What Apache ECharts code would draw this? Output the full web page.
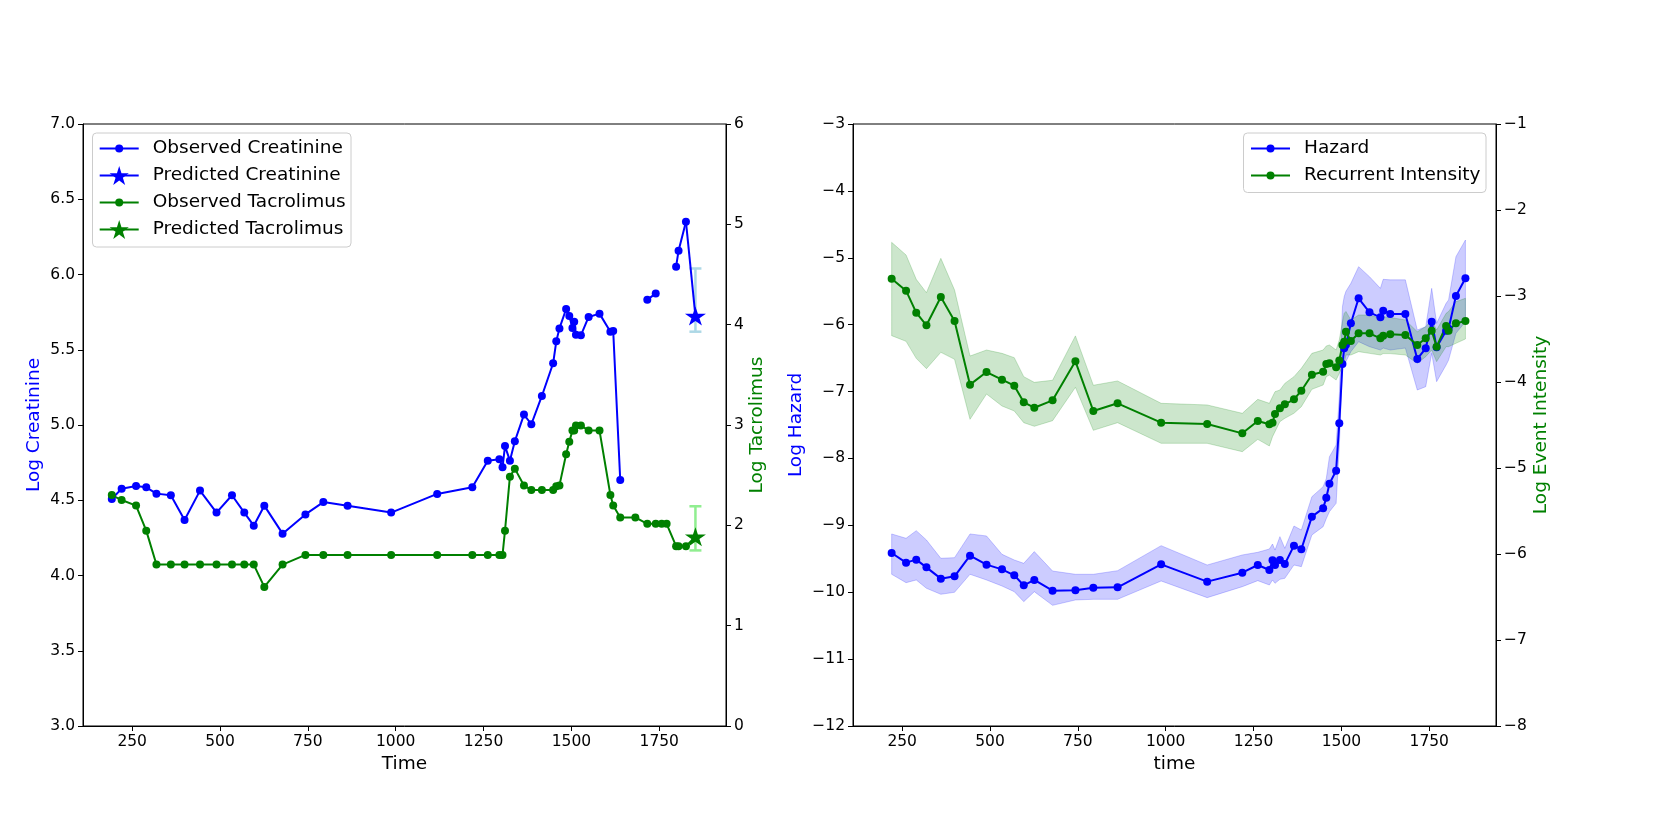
<!DOCTYPE html>
<html>
<head>
<meta charset="utf-8">
<script src="https://cdn.jsdelivr.net/npm/echarts@6/dist/echarts.min.js"></script>
<style>
  html, body { margin: 0; padding: 0; background: #fff; }
  #main { width: 1661px; height: 830px; }
</style>
</head>
<body>
<div id="main"></div>
<script>
// ---- left panel: observed labs ----
const timeL = [192, 220, 261, 290, 319, 360, 399, 443, 490, 534, 569, 596, 626, 678, 743, 794, 863, 987, 1118, 1218,
  1262, 1295, 1304, 1311, 1325, 1339, 1365, 1386, 1416, 1448, 1457, 1466, 1485, 1494, 1503, 1508, 1513, 1527, 1549, 1580,
  1611, 1619, 1639, 1682, 1716, 1740, 1757, 1771, 1798, 1805, 1826]
const creatinine = [4.508, 4.577, 4.595, 4.586, 4.544, 4.533, 4.369, 4.564, 4.418, 4.533, 4.418, 4.331, 4.464, 4.278, 4.406, 4.488, 4.464, 4.418, 4.542, 4.586,
  4.763, 4.772, 4.719, 4.860, 4.763, 4.892, 5.069, 5.005, 5.193, 5.410, 5.556, 5.642, 5.771, 5.724, 5.645, 5.686, 5.600, 5.596, 5.718, 5.740,
  5.620, 5.625, 4.635, null, 5.833, 5.873, null, null, 6.052, 6.158, 6.351]
const tacrolimus = [2.302, 2.252, 2.197, 1.947, 1.609, 1.609, 1.609, 1.609, 1.609, 1.609, 1.609, 1.609, 1.386, 1.609, 1.705, 1.705, 1.705, 1.705, 1.705, 1.705,
  1.705, 1.705, 1.705, 1.946, 2.485, 2.565, 2.398, 2.351, 2.351, 2.351, 2.390, 2.398, 2.708, 2.833, 2.944, 2.944, 2.996, 2.996, 2.944, 2.944,
  2.302, 2.197, 2.079, 2.079, 2.015, 2.015, 2.015, 2.015, 1.792, 1.792, 1.792]
const predTime = 1853
const predCreatinine = 5.724
const predCreatinineErr = [5.62, 6.04]
const predTacrolimus = 1.887
const predTacrolimusErr = [1.75, 2.19]

// ---- right panel: hazard / recurrent intensity ----
const timeR = [220, 261, 290, 319, 360, 399, 443, 490, 534, 569, 596, 626, 678, 743, 794, 863, 987, 1118, 1218, 1262,
  1295, 1304, 1311, 1325, 1339, 1365, 1386, 1416, 1448, 1457, 1466, 1485, 1494, 1503, 1508, 1513, 1527, 1549, 1580, 1611,
  1619, 1639, 1682, 1716, 1740, 1757, 1771, 1798, 1805, 1826, 1853]
const hazard = [-9.414, -9.558, -9.513, -9.628, -9.797, -9.762, -9.454, -9.588, -9.658, -9.747, -9.897, -9.817, -9.977, -9.972, -9.932, -9.927, -9.583, -9.842, -9.708, -9.593,
  -9.668, -9.523, -9.593, -9.518, -9.578, -9.304, -9.358, -8.870, -8.746, -8.587, -8.377, -8.183, -7.472, -6.588, -6.353, -6.30, -5.980, -5.606, -5.815, -5.890,
  -5.791, -5.840, -5.840, -6.513, -6.353, -5.955, -6.338, -6.090, -6.06, -5.571, -5.307]
const hazardHi = [-9.129, -9.194, -9.080, -9.219, -9.493, -9.483, -9.129, -9.159, -9.433, -9.518, -9.568, -9.393, -9.683, -9.732, -9.732, -9.678, -9.304, -9.593, -9.443, -9.403,
  -9.354, -9.279, -9.37, -9.169, -9.344, -9.010, -9.070, -8.572, -8.422, -8.30, -7.974, -7.799, -7.077, -5.731, -5.58, -5.50, -5.382, -5.133, -5.283, -5.457,
  -5.322, -5.33, -5.33, -6.080, -6.03, -5.457, -5.980, -5.681, -5.63, -4.984, -4.734]
const hazardLo = [-9.732, -9.857, -9.817, -9.941, -10.031, -10.001, -9.732, -9.817, -9.907, -9.992, -10.141, -9.992, -10.196, -10.116, -10.106, -10.106, -9.832, -10.081, -9.917, -9.827,
  -9.892, -9.817, -9.867, -9.807, -9.792, -9.593, -9.618, -9.144, -9.020, -8.90, -8.796, -8.671, -7.824, -6.628, -6.60, -6.55, -6.404, -6.254, -6.329, -6.379,
  -6.35, -6.379, -6.35, -6.977, -6.927, -6.428, -6.852, -6.603, -6.53, -6.129, -5.955]
const intensity = [-2.799, -2.938, -3.194, -3.341, -3.012, -3.291, -4.031, -3.884, -3.973, -4.043, -4.236, -4.299, -4.213, -3.760, -4.337, -4.248, -4.473, -4.488, -4.597, -4.453,
  -4.492, -4.473, -4.372, -4.306, -4.260, -4.202, -4.101, -3.915, -3.880, -3.791, -3.783, -3.829, -3.75, -3.570, -3.531, -3.415, -3.523, -3.434, -3.434, -3.492,
  -3.461, -3.446, -3.453, -3.570, -3.492, -3.403, -3.589, -3.349, -3.403, -3.318, -3.291]
const intensityHi = [-2.376, -2.523, -2.806, -2.961, -2.562, -2.930, -3.698, -3.628, -3.667, -3.717, -3.938, -4.004, -3.980, -3.464, -4.038, -3.988, -4.248, -4.267, -4.364, -4.202,
  -4.248, -4.171, -4.113, -4.093, -4.016, -3.938, -3.841, -3.667, -3.628, -3.581, -3.57, -3.628, -3.51, -3.299, -3.202, -3.18, -3.279, -3.221, -3.221, -3.260,
  -3.24, -3.25, -3.279, -3.415, -3.357, -3.279, -3.395, -3.202, -3.18, -3.066, -3.027]
const intensityLo = [-3.461, -3.527, -3.725, -3.845, -3.655, -3.736, -4.434, -4.140, -4.279, -4.337, -4.473, -4.515, -4.450, -4.062, -4.562, -4.473, -4.713, -4.713, -4.810, -4.667,
  -4.744, -4.636, -4.578, -4.461, -4.422, -4.364, -4.287, -4.085, -4.035, -3.938, -3.92, -3.977, -3.90, -3.822, -3.78, -3.686, -3.686, -3.647, -3.667, -3.686,
  -3.67, -3.67, -3.686, -3.783, -3.705, -3.628, -3.763, -3.589, -3.589, -3.550, -3.50]

const xTicks = [250, 500, 750, 1000, 1250, 1500, 1750]

const FONT = 'DejaVu Sans'
const BLUE = '#0000ff'
const GREEN = '#008000'
const STAR = 'path://M0,-100 L22.45,-30.9 L95.1,-30.9 L36.3,11.8 L58.8,80.9 L0,38.2 L-58.8,80.9 L-36.3,11.8 L-95.1,-30.9 L-22.45,-30.9 Z'

const pairs = (xs, ys) => xs.map((x, i) => [x, ys[i] === null ? '-' : ys[i]])
const minus = v => String(v).replace('-', '\u2212')

function lastPoint(xs, ys) {
  for (let i = ys.length - 1; i >= 0; i--) if (ys[i] !== null) return [xs[i], ys[i]]
}

function xAxis(gridIndex, name) {
  return {
    type: 'value', gridIndex, min: 110, max: 1940,
    name, nameLocation: 'middle', nameGap: 27,
    nameTextStyle: {fontFamily: FONT, fontSize: 18.5, color: '#000'},
    axisLine: {lineStyle: {color: '#000', width: 1}},
    axisTick: {customValues: xTicks, length: 5, lineStyle: {color: '#000'}},
    axisLabel: {customValues: xTicks, fontFamily: FONT, fontSize: 15.5, color: '#000', margin: 8, formatter: v => String(v)},
    splitLine: {show: false}
  }
}

function yAxis(gridIndex, position, min, max, interval, name, color, gap, fmt) {
  return {
    type: 'value', gridIndex, position, min, max, interval,
    name, nameLocation: 'middle', nameRotate: 90, nameGap: gap,
    nameTextStyle: {fontFamily: FONT, fontSize: 18.5, color},
    axisLine: {show: true, onZero: false, lineStyle: {color: '#000', width: 1}},
    axisTick: {show: true, length: 5, lineStyle: {color: '#000'}},
    axisLabel: {fontFamily: FONT, fontSize: 15.5, color: '#000', margin: 8, formatter: fmt},
    splitLine: {show: false}
  }
}

function errorBar(color, x, lo, hi, xAxisIndex, yAxisIndex) {
  return {
    type: 'custom', xAxisIndex, yAxisIndex, z: 1, silent: true,
    data: [[x, lo, hi]],
    renderItem: (params, api) => {
      const top = api.coord([api.value(0), api.value(2)])
      const bot = api.coord([api.value(0), api.value(1)])
      const cap = 6
      const st = {stroke: color, lineWidth: 2.5}
      return {type: 'group', children: [
        {type: 'line', shape: {x1: top[0], y1: top[1], x2: bot[0], y2: bot[1]}, style: st},
        {type: 'line', shape: {x1: top[0] - cap, y1: top[1], x2: top[0] + cap, y2: top[1]}, style: st},
        {type: 'line', shape: {x1: bot[0] - cap, y1: bot[1], x2: bot[0] + cap, y2: bot[1]}, style: st}
      ]}
    }
  }
}

// confidence band drawn as one polygon through the axis scales
function band(xs, lo, hi, fill, xAxisIndex, yAxisIndex) {
  return {
    type: 'custom', xAxisIndex, yAxisIndex, z: 1, silent: true,
    data: xs.map((x, i) => [x, lo[i], hi[i]]),
    renderItem: (params, api) => {
      if (params.dataIndex !== 0) return
      const pts = []
      for (let i = 0; i < xs.length; i++) pts.push(api.coord([xs[i], hi[i]]))
      for (let i = xs.length - 1; i >= 0; i--) pts.push(api.coord([xs[i], lo[i]]))
      return {type: 'polygon', shape: {points: pts}, style: {fill, stroke: fill, lineWidth: 1}}
    }
  }
}

function observed(name, xs, ys, color, xAxisIndex, yAxisIndex) {
  return {
    name, type: 'line', xAxisIndex, yAxisIndex, z: 3,
    data: pairs(xs, ys), connectNulls: false,
    symbol: 'circle', symbolSize: 8, showSymbol: true,
    itemStyle: {color}, lineStyle: {color, width: 2},
    emphasis: {disabled: true}
  }
}

function predicted(name, from, x, y, color, xAxisIndex, yAxisIndex) {
  return {
    name, type: 'line', xAxisIndex, yAxisIndex, z: 3,
    data: [{value: from, symbol: 'none'}, [x, y]],
    symbol: STAR, symbolSize: [21, 20], symbolKeepAspect: true,
    itemStyle: {color}, lineStyle: {color, width: 2},
    emphasis: {disabled: true}
  }
}

function legendItem(name, left, centerY, iconH) {
  return {
    data: [name], left, top: centerY - 9.4, orient: 'vertical', padding: 0,
    itemWidth: 39, itemHeight: iconH, selectedMode: false, z: 5,
    textStyle: {fontFamily: FONT, fontSize: 18.5, color: '#000', padding: [0, 0, 0, 9]}
  }
}

const chart = echarts.init(document.getElementById('main'), null, {renderer: 'canvas'})

const option = {
  animation: false,
  backgroundColor: '#fff',
  grid: [
    {left: 83, top: 124, width: 643, height: 602, show: true, borderColor: '#000', borderWidth: 1, backgroundColor: 'transparent'},
    {left: 853, top: 124, width: 643, height: 602, show: true, borderColor: '#000', borderWidth: 1, backgroundColor: 'transparent'}
  ],
  xAxis: [xAxis(0, 'Time'), xAxis(1, 'time')],
  yAxis: [
    yAxis(0, 'left', 3, 7, 0.5, 'Log Creatinine', BLUE, 39, v => v.toFixed(1)),
    yAxis(0, 'right', 0, 6, 1, 'Log Tacrolimus', GREEN, 20, v => String(v)),
    yAxis(1, 'left', -12, -3, 1, 'Log Hazard', BLUE, 47, minus),
    yAxis(1, 'right', -8, -1, 1, 'Log Event Intensity', GREEN, 36, minus)
  ],
  graphic: [
    {type: 'rect', z: 4, shape: {x: 92.5, y: 133, width: 258.5, height: 114, r: 4},
      style: {fill: 'rgba(255,255,255,0.8)', stroke: '#cccccc', lineWidth: 1}},
    {type: 'rect', z: 4, shape: {x: 1243.5, y: 133, width: 242.5, height: 59.5, r: 4},
      style: {fill: 'rgba(255,255,255,0.8)', stroke: '#cccccc', lineWidth: 1}}
  ],
  legend: [
    legendItem('Observed Creatinine', 98.7, 148.3, 10),
    legendItem('Predicted Creatinine', 98.7, 175.3, 24),
    legendItem('Observed Tacrolimus', 98.7, 202.3, 10),
    legendItem('Predicted Tacrolimus', 98.7, 229.3, 24),
    legendItem('Hazard', 1250, 148.3, 10),
    legendItem('Recurrent Intensity', 1250, 175.3, 10)
  ],
  series: [
    // left panel
    errorBar('#add8e6', predTime, predCreatinineErr[0], predCreatinineErr[1], 0, 0),
    observed('Observed Creatinine', timeL, creatinine, BLUE, 0, 0),
    predicted('Predicted Creatinine', lastPoint(timeL, creatinine), predTime, predCreatinine, BLUE, 0, 0),
    errorBar('#90ee90', predTime, predTacrolimusErr[0], predTacrolimusErr[1], 0, 1),
    observed('Observed Tacrolimus', timeL, tacrolimus, GREEN, 0, 1),
    predicted('Predicted Tacrolimus', lastPoint(timeL, tacrolimus), predTime, predTacrolimus, GREEN, 0, 1),
    // right panel
    band(timeR, hazardLo, hazardHi, 'rgba(0,0,255,0.2)', 1, 2),
    observed('Hazard', timeR, hazard, BLUE, 1, 2),
    band(timeR, intensityLo, intensityHi, 'rgba(0,128,0,0.2)', 1, 3),
    observed('Recurrent Intensity', timeR, intensity, GREEN, 1, 3)
  ]
}

chart.setOption(option)
</script>
</body>
</html>
